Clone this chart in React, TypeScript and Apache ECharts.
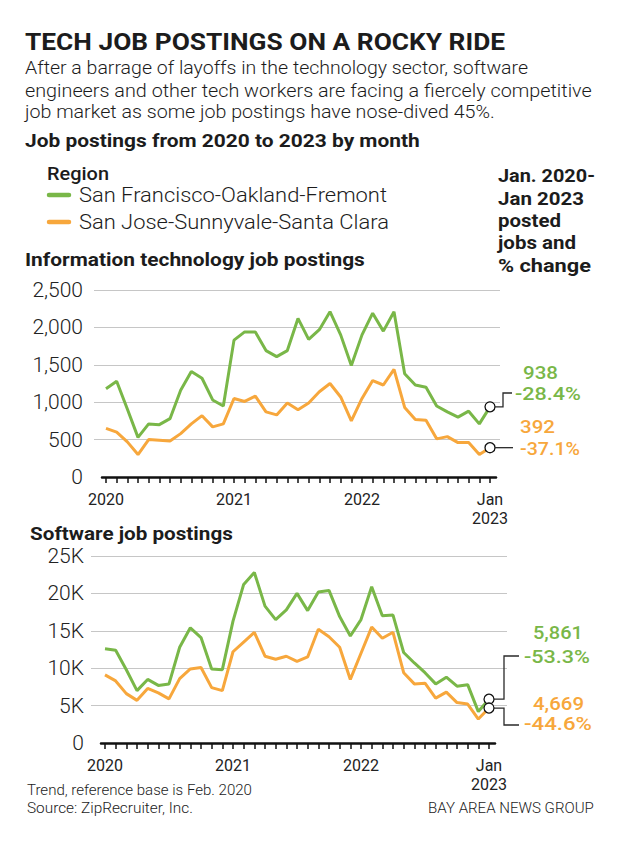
import React, { useEffect, useRef } from "react";
import * as echarts from "echarts";

const months = [
  "2020-01","2020-02","2020-03","2020-04","2020-05","2020-06","2020-07","2020-08","2020-09","2020-10","2020-11","2020-12",
  "2021-01","2021-02","2021-03","2021-04","2021-05","2021-06","2021-07","2021-08","2021-09","2021-10","2021-11","2021-12",
  "2022-01","2022-02","2022-03","2022-04","2022-05","2022-06","2022-07","2022-08","2022-09","2022-10","2022-11","2022-12",
  "2023-01",
];

const itSF = [1180,1280,910,530,710,700,780,1160,1410,1320,1030,950,1830,1940,1940,1690,1610,1690,2120,1840,1970,2210,1900,1490,1900,2190,1950,2210,1380,1230,1200,950,870,800,880,710,938];
const itSJ = [650,600,470,300,500,490,480,580,710,820,670,710,1050,1010,1080,870,830,990,900,990,1140,1250,1070,750,1050,1290,1230,1440,930,770,760,510,540,460,460,300,392];
const swSF = [12600,12400,9800,7000,8500,7700,7900,12800,15400,14100,9900,9800,16300,21200,22800,18300,16500,17800,20000,17700,20200,20400,16900,14300,16500,20900,17000,17100,12100,10700,9400,7900,8800,7600,7800,4200,5861];
const swSJ = [9100,8300,6600,5700,7300,6700,5900,8600,9900,10100,7400,7000,12200,13500,14800,11600,11200,11600,10900,11500,15200,14200,12800,8500,12000,15500,14000,14800,9400,7900,8000,6000,6800,5400,5200,3200,4669];

const itTicks = { min: 0, max: 2500, interval: 500 };
const swTicks = { min: 0, max: 25000, interval: 5000 };

const itChange = { sf: "-28.4%", sj: "-37.1%" };
const swChange = { sf: "-53.3%", sj: "-44.6%" };

const regions = ["San Francisco-Oakland-Fremont", "San Jose-Sunnyvale-Santa Clara"];

const GREEN = "#79b748";
const ORANGE = "#f7a73c";
const INK = "#1c1c1c";
const FONT = "Roboto";

let measureCtx: CanvasRenderingContext2D | null = null;
function fitScale(text: string, size: number, weight: string | number, target?: number) {
  if (!target) return 1;
  if (!measureCtx) measureCtx = document.createElement("canvas").getContext("2d");
  if (!measureCtx) return 1;
  measureCtx.font = `${weight} ${size}px ${FONT}`;
  const w = measureCtx.measureText(text).width;
  return w > 0 ? target / w : 1;
}

function txt(
  text: string,
  x: number,
  y: number,
  size: number,
  weight: string | number,
  fill: string,
  target?: number,
  align: string = "left"
) {
  return {
    type: "text",
    x,
    y,
    scaleX: fitScale(text, size, weight, target),
    silent: true,
    style: {
      text,
      fill,
      fontSize: size,
      fontWeight: weight,
      fontFamily: FONT,
      align,
      verticalAlign: "middle",
      textAlign: align,
      textVerticalAlign: "middle",
    },
  };
}

function monthLabel(v: string, i: number) {
  const [y, m] = v.split("-");
  if (i === months.length - 1) return "Jan\n" + y;
  return m === "01" ? y : "";
}

export default function App() {
  const ref = useRef<HTMLDivElement>(null);

  useEffect(() => {
    document.body.style.margin = "0";
    if (!ref.current) return;
    const chart = echarts.init(ref.current, undefined, { renderer: "svg" });

    const gridLineAxisY = (gridIndex: number, t: any, fmt: (v: number) => string, margin: number) => ({
      type: "value",
      gridIndex,
      min: t.min,
      max: t.max,
      interval: t.interval,
      axisLine: { show: false },
      axisTick: { show: false },
      splitLine: { show: true, showMinLine: false, lineStyle: { color: "#c6c6c6", width: 1 } },
      axisLabel: { formatter: fmt, fontSize: 21, fontWeight: 300, color: "#222", margin, fontFamily: FONT },
    });
    const hiddenY = (gridIndex: number, t: any) => ({ type: "value", gridIndex, min: t.min, max: t.max, show: false });
    const hiddenX = (gridIndex: number) => ({ type: "value", gridIndex, min: 0, max: 1, show: false });
    const lineX = (gridIndex: number) => ({
      type: "value",
      gridIndex,
      min: 0,
      max: 1,
      axisLine: { show: true, lineStyle: { color: "#111", width: 2.5 } },
      axisTick: { show: false },
      axisLabel: { show: false },
      splitLine: { show: false },
    });
    const catX = (gridIndex: number) => ({
      type: "category",
      gridIndex,
      data: months,
      boundaryGap: false,
      axisLine: { show: false },
      axisTick: { show: true, interval: 0, length: 6, lineStyle: { color: "#111", width: 1.5 } },
      axisLabel: {
        interval: 0,
        formatter: monthLabel,
        margin: 13,
        fontSize: 16,
        lineHeight: 19,
        color: "#222",
        fontFamily: FONT,
      },
      splitLine: { show: false },
    });

    const lineSeries = (data: number[], color: string, axis: number) => ({
      type: "line",
      xAxisIndex: axis,
      yAxisIndex: axis,
      data,
      showSymbol: false,
      lineStyle: { color, width: 3 },
      itemStyle: { color },
      z: 3,
    });
    const endSeries = (a: number[], b: number[], axis: number) => ({
      type: "scatter",
      xAxisIndex: axis,
      yAxisIndex: axis,
      data: [
        [months.length - 1, a[a.length - 1]],
        [months.length - 1, b[b.length - 1]],
      ],
      symbolSize: 10,
      itemStyle: { color: "#fff", borderColor: "#111", borderWidth: 1.3, opacity: 1 },
      z: 6,
    });

    chart.setOption({
      animation: false,
      grid: [
        { left: 94, top: 290, width: 406, height: 187 },
        { left: 102, top: 290, width: 394, height: 187 },
        { left: 106, top: 290, width: 384, height: 187 },
        { left: 91, top: 556, width: 416, height: 187 },
        { left: 101, top: 556, width: 394, height: 187 },
        { left: 105, top: 556, width: 384, height: 187 },
      ],
      xAxis: [hiddenX(0), lineX(1), catX(2), hiddenX(3), lineX(4), catX(5)],
      yAxis: [
        gridLineAxisY(0, itTicks, (v: number) => v.toLocaleString("en-US"), 11),
        hiddenY(1, itTicks),
        hiddenY(2, itTicks),
        gridLineAxisY(3, swTicks, (v: number) => (v === 0 ? "0" : v / 1000 + "K"), 7),
        hiddenY(4, swTicks),
        hiddenY(5, swTicks),
      ],
      series: [
        lineSeries(itSJ, ORANGE, 2),
        lineSeries(itSF, GREEN, 2),
        endSeries(itSF, itSJ, 2),
        lineSeries(swSJ, ORANGE, 5),
        lineSeries(swSF, GREEN, 5),
        endSeries(swSF, swSJ, 5),
      ],
    });

    const p = (seriesIndex: number, v: number) =>
      chart.convertToPixel({ seriesIndex } as any, [months.length - 1, v]) as number[];
    const itG = p(1, itSF[itSF.length - 1]);
    const itO = p(0, itSJ[itSJ.length - 1]);
    const swG = p(4, swSF[swSF.length - 1]);
    const swO = p(3, swSJ[swSJ.length - 1]);
    const R = 5;
    const conn = (pts: number[][]) => ({
      type: "polyline",
      silent: true,
      shape: { points: pts },
      style: { stroke: "#2a2a2a", lineWidth: 1.3, fill: null },
      z: 10,
    });

    const fmtN = (v: number) => v.toLocaleString("en-US");
    const AS = 19;

    chart.setOption({
      graphic: {
        elements: [
          txt("TECH JOB POSTINGS ON A ROCKY RIDE", 25, 42, 24, "bold", INK, 480),
          txt("After a barrage of layoffs in the technology sector, software", 25, 68, 18, 300, INK, 503),
          txt("engineers and other tech workers are facing a fiercely competitive", 25, 90.5, 18, 300, INK, 567),
          txt("job market as some job postings have nose-dived 45%.", 25, 112.5, 18, 300, INK, 470),
          txt("Job postings from 2020 to 2023 by month", 25, 140, 19, "bold", INK, 395),
          txt("Region", 47, 174, 19, 500, INK, 62),
          {
            type: "line",
            silent: true,
            shape: { x1: 49, y1: 195, x2: 69, y2: 195 },
            style: { stroke: GREEN, lineWidth: 4.5, lineCap: "round" },
          },
          {
            type: "line",
            silent: true,
            shape: { x1: 49, y1: 222, x2: 69, y2: 222 },
            style: { stroke: ORANGE, lineWidth: 4.5, lineCap: "round" },
          },
          txt(regions[0], 79, 195, 21, 300, INK, 308),
          txt(regions[1], 79, 222, 21, 300, INK, 310),
          txt("Jan. 2020-", 498, 176, 19, "bold", INK, 97),
          txt("Jan 2023", 498, 199, 19, "bold", INK, 86),
          txt("posted", 498, 221, 19, "bold", INK, 63),
          txt("jobs and", 498, 243, 19, "bold", INK, 78),
          txt("% change", 498, 265, 19, "bold", INK, 93),
          txt("Information technology job postings", 25, 259.5, 19, "bold", INK, 340),
          txt("Software job postings", 30, 534, 19, "bold", INK, 203),

          conn([[itG[0] + R, itG[1]], [503, itG[1]], [503, 393], [512, 393]]),
          conn([[itO[0] + R, itO[1]], [513, itO[1]]]),
          txt(fmtN(itSF[itSF.length - 1]), 523, 373, AS, 500, GREEN, 35),
          txt(itChange.sf, 515, 393.5, AS, 500, GREEN, 66),
          txt(fmtN(itSJ[itSJ.length - 1]), 520, 427, AS, 500, ORANGE, 35),
          txt(itChange.sj, 520, 448.5, AS, 500, ORANGE, 60),

          conn([[swG[0] + R, swG[1]], [504, swG[1]], [504, 656], [519, 656]]),
          conn([[swO[0] + R, swO[1]], [504, swO[1]], [504, 725], [519, 725]]),
          txt(fmtN(swSF[swSF.length - 1]), 533, 633, AS, 500, GREEN, 50),
          txt(swChange.sf, 524, 656.5, AS, 500, GREEN, 66),
          txt(fmtN(swSJ[swSJ.length - 1]), 533, 704, AS, 500, ORANGE, 51),
          txt(swChange.sj, 524, 724, AS, 500, ORANGE, 68),

          txt("Trend, reference base is Feb. 2020", 27, 790.5, 15, 300, INK, 225),
          txt("Source: ZipRecruiter, Inc.", 27, 808, 15, 300, INK, 166),
          txt("BAY AREA NEWS GROUP", 428, 808, 15, 300, INK, 166),
        ],
      },
    });

    return () => chart.dispose();
  }, []);

  return <div ref={ref} style={{ width: 620, height: 847 }} />;
}
